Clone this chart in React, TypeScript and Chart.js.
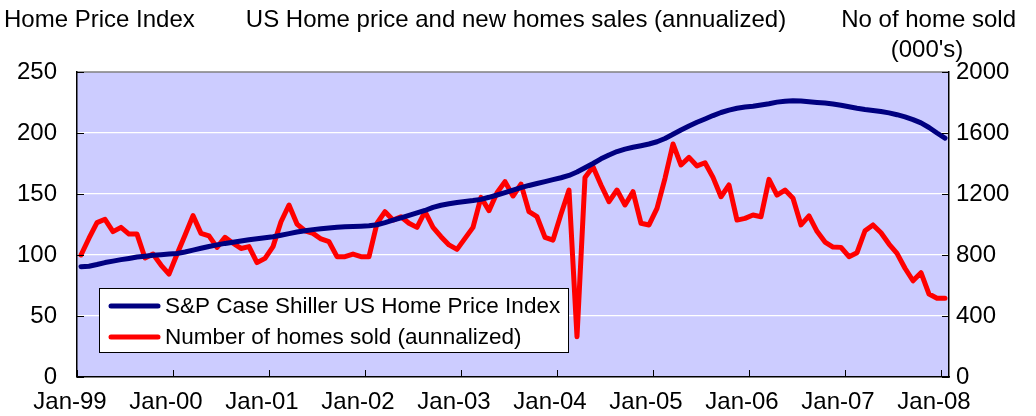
import React, { useEffect, useRef } from 'react';
import { Chart, registerables } from 'chart.js';

Chart.register(...registerables);

const FONT_FAMILY = '"Liberation Sans", Arial, Helvetica, sans-serif';

const chartTitle = 'US Home price and new homes sales (annualized)';
const leftAxisTitle = 'Home Price Index';
const rightAxisTitle = ['No of home sold', "(000's)"];

const monthNames = ['Jan', 'Feb', 'Mar', 'Apr', 'May', 'Jun', 'Jul', 'Aug', 'Sep', 'Oct', 'Nov', 'Dec'];
const xTickLabels = ['Jan-99', 'Jan-00', 'Jan-01', 'Jan-02', 'Jan-03', 'Jan-04', 'Jan-05', 'Jan-06', 'Jan-07', 'Jan-08'];
const leftTicks = [0, 50, 100, 150, 200, 250];
const rightTicks = [0, 400, 800, 1200, 1600, 2000];

const seriesNames = ['S&P Case Shiller US Home Price Index', 'Number of homes sold (aunnalized)'];

// S&P Case Shiller index, monthly Jan-99 .. Jan-08
const hpiValues = [
  90.4, 90.8, 92.2, 93.8, 95.0, 96.2, 97.2, 98.3, 99.0, 99.8, 100.3, 100.8,
  101.2, 102.5, 104.0, 105.5, 107.0, 108.3, 109.5, 110.5, 111.5, 112.5, 113.3, 114.2,
  115.0, 116.2, 117.5, 118.8, 119.8, 120.8, 121.5, 122.2, 122.8, 123.2, 123.4, 123.6,
  123.9, 124.8, 126.5, 128.5, 130.5, 132.5, 134.5, 136.5, 139.0, 140.8, 142.0, 143.0,
  143.8, 144.6, 145.6, 147.3, 149.2, 151.2, 153.2, 155.2, 157.0, 158.6, 160.2, 161.8,
  163.3, 165.2, 168.0, 171.5, 175.0, 178.8, 182.0, 184.8, 186.8, 188.3, 189.6, 191.0,
  192.8, 195.5, 199.0, 202.5, 205.8, 208.8, 211.5, 214.3, 216.8, 218.8, 220.3, 221.3,
  222.0, 223.0, 224.0, 225.3, 226.0, 226.4, 226.2, 225.6, 225.0, 224.5, 223.8, 222.8,
  221.5, 220.3, 219.3, 218.5, 217.6, 216.5, 215.0, 213.2, 211.0, 208.3, 204.5, 200.0,
  195.8,
];

// New homes sold (annualized, 000's), monthly Jan-99 .. Jan-08
const salesValues = [
  800, 910, 1012, 1034, 953, 981, 937, 937, 780, 806, 734, 675,
  805, 930, 1058, 942, 925, 850, 916, 877, 843, 855, 750, 778,
  855, 1018, 1128, 1003, 959, 942, 905, 887, 789, 789, 806, 789,
  789, 1008, 1084, 1029, 1051, 1008, 981, 1084, 981, 920, 866, 837,
  909, 981, 1178, 1091, 1208, 1281, 1187, 1265, 1084, 1051, 916, 898,
  1068, 1226, 264, 1309, 1379, 1259, 1150, 1226, 1128, 1215, 1008, 997,
  1106, 1303, 1528, 1390, 1440, 1384, 1405, 1309, 1182, 1259, 1029, 1040,
  1062, 1051, 1296, 1193, 1226, 1172, 997, 1056, 955, 885, 852, 850,
  789, 815, 959, 997, 946, 872, 811, 713, 631, 684, 544, 516,
  516,
];

const categories = hpiValues.map(
  (_, i) => `${monthNames[i % 12]}-${String((99 + Math.floor(i / 12)) % 100).padStart(2, '0')}`
);

const font = (size: number) => ({ family: FONT_FAMILY, size });

const backgroundPlugin = {
  id: 'plotBackground',
  beforeDraw(chart: any) {
    const { ctx, chartArea } = chart;
    ctx.save();
    ctx.fillStyle = '#CCCCFF';
    ctx.fillRect(chartArea.left, chartArea.top, chartArea.right - chartArea.left, chartArea.bottom - chartArea.top);
    ctx.strokeStyle = '#808080';
    ctx.lineWidth = 1.5;
    ctx.beginPath();
    ctx.moveTo(chartArea.left, chartArea.top);
    ctx.lineTo(chartArea.right, chartArea.top);
    ctx.stroke();
    ctx.restore();
  },
};

const tickMarksPlugin = {
  id: 'innerTicks',
  afterDatasetsDraw(chart: any) {
    const { ctx, chartArea, scales } = chart;
    const len = 7;
    ctx.save();
    ctx.strokeStyle = '#000';
    ctx.lineWidth = 1;
    ctx.beginPath();
    scales.y.ticks.forEach((t: any) => {
      const py = Math.round(scales.y.getPixelForValue(t.value)) + 0.5;
      ctx.moveTo(chartArea.left, py);
      ctx.lineTo(chartArea.left + len, py);
    });
    scales.y1.ticks.forEach((t: any) => {
      const py = Math.round(scales.y1.getPixelForValue(t.value)) + 0.5;
      ctx.moveTo(chartArea.right - len, py);
      ctx.lineTo(chartArea.right, py);
    });
    scales.x.ticks.forEach((t: any) => {
      const px = Math.round(scales.x.getPixelForValue(t.value)) + 0.5;
      ctx.moveTo(px, chartArea.bottom);
      ctx.lineTo(px, chartArea.bottom - len);
    });
    ctx.stroke();
    ctx.restore();
  },
};

const legendPlugin = {
  id: 'innerLegend',
  afterDraw(chart: any) {
    const { ctx } = chart;
    const box = { x: 99.5, y: 288.5, w: 469, h: 64 };
    ctx.save();
    ctx.fillStyle = '#FFFFFF';
    ctx.fillRect(box.x, box.y, box.w, box.h);
    ctx.strokeStyle = '#000';
    ctx.lineWidth = 1;
    ctx.strokeRect(box.x, box.y, box.w, box.h);
    const rows = [306, 337];
    chart.data.datasets.forEach((ds: any, k: number) => {
      const y = rows[k];
      ctx.strokeStyle = ds.borderColor;
      ctx.lineWidth = 5;
      ctx.lineCap = 'round';
      ctx.beginPath();
      ctx.moveTo(111, y);
      ctx.lineTo(158, y);
      ctx.stroke();
      ctx.fillStyle = '#000';
      ctx.font = `22.5px ${FONT_FAMILY}`;
      ctx.textBaseline = 'middle';
      ctx.textAlign = 'left';
      ctx.fillText(ds.label, 165, y + 1);
    });
    ctx.restore();
  },
};

const titlesPlugin = {
  id: 'titles',
  afterDraw(chart: any) {
    const { ctx } = chart;
    ctx.save();
    ctx.fillStyle = '#000';
    ctx.font = `24px ${FONT_FAMILY}`;
    ctx.textBaseline = 'alphabetic';
    ctx.textAlign = 'left';
    ctx.fillText(leftAxisTitle, 4, 27);
    ctx.textAlign = 'center';
    ctx.fillText(chartTitle, 516, 27);
    ctx.textAlign = 'right';
    ctx.fillText(rightAxisTitle[0], 1016, 27);
    ctx.textAlign = 'center';
    ctx.fillText(rightAxisTitle[1], 927, 57);
    ctx.restore();
  },
};

export default function App() {
  const canvasRef = useRef<HTMLCanvasElement | null>(null);

  useEffect(() => {
    const canvas = canvasRef.current;
    if (!canvas) return;
    const chart = new Chart(canvas, {
      type: 'line',
      data: {
        datasets: [
          {
            label: seriesNames[0],
            data: hpiValues.map((v, i) => ({ x: i + 0.5, y: v })),
            borderColor: '#000080',
            backgroundColor: '#000080',
            borderWidth: 5,
            pointRadius: 0,
            tension: 0,
            borderJoinStyle: 'round',
            borderCapStyle: 'round',
            yAxisID: 'y',
          },
          {
            label: seriesNames[1],
            data: salesValues.map((v, i) => ({ x: i + 0.5, y: v })),
            borderColor: '#FF0000',
            backgroundColor: '#FF0000',
            borderWidth: 5,
            pointRadius: 0,
            tension: 0,
            borderJoinStyle: 'round',
            borderCapStyle: 'round',
            yAxisID: 'y1',
          },
        ],
      },
      options: {
        responsive: false,
        animation: false,
        events: [],
        layout: { padding: { top: 72, left: 0, right: 0, bottom: 0 } },
        plugins: {
          legend: { display: false },
          title: { display: false },
          tooltip: { enabled: false },
        },
        scales: {
          x: {
            type: 'linear',
            min: 0,
            max: categories.length,
            afterBuildTicks: (s: any) => {
              s.ticks = xTickLabels.map((_, k) => ({ value: k * 12 }));
            },
            ticks: {
              callback: (v: any) => xTickLabels[Math.round(Number(v) / 12)] ?? '',
              font: font(24),
              color: '#000',
              padding: 11,
              labelOffset: -7,
              maxRotation: 0,
              autoSkip: false,
            },
            grid: { display: false, drawTicks: false },
            border: { display: true, color: '#000', width: 1.5 },
            afterFit: (s: any) => {
              s.height = 39;
            },
          },
          y: {
            position: 'left',
            min: 0,
            max: 250,
            afterBuildTicks: (s: any) => {
              s.ticks = leftTicks.map((v) => ({ value: v }));
            },
            ticks: { font: font(24), color: '#000', padding: 20, callback: (v: any) => String(v) },
            grid: {
              color: (c: any) => (c.tick && (c.tick.value === 0 || c.tick.value === 250) ? 'rgba(0,0,0,0)' : '#FFFFFF'),
              lineWidth: 1.3,
              drawTicks: false,
            },
            border: { display: true, color: '#000', width: 1.5 },
            afterFit: (s: any) => {
              s.width = 77;
            },
          },
          y1: {
            position: 'right',
            min: 0,
            max: 2000,
            afterBuildTicks: (s: any) => {
              s.ticks = rightTicks.map((v) => ({ value: v }));
            },
            ticks: { font: font(24), color: '#000', padding: 7, callback: (v: any) => String(v) },
            grid: { display: false, drawTicks: false },
            border: { display: true, color: '#000', width: 1.5 },
            afterFit: (s: any) => {
              s.width = 87;
            },
          },
        },
      } as any,
      plugins: [backgroundPlugin, tickMarksPlugin, legendPlugin, titlesPlugin],
    });
    return () => chart.destroy();
  }, []);

  return (
    <div style={{ position: 'fixed', left: 0, top: 0, width: 1036, height: 416, background: '#fff' }}>
      <canvas ref={canvasRef} width={1036} height={416} style={{ display: 'block', width: 1036, height: 416 }} />
    </div>
  );
}
